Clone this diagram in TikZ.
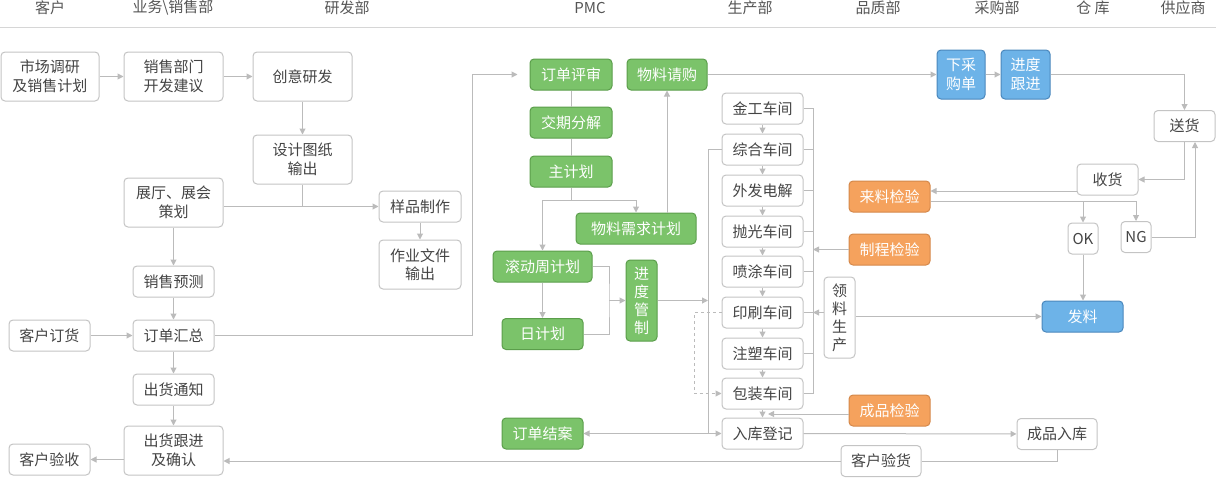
\documentclass[tikz,border=0pt]{standalone}
\usepackage{fontspec}
\setmainfont{Noto Sans CJK SC}
\usetikzlibrary{arrows.meta,calc}
\definecolor{linegray}{HTML}{BBBBBB}
\definecolor{boxgray}{HTML}{C4C4C4}
\definecolor{txtgray}{HTML}{444444}
\definecolor{hdgray}{HTML}{555555}
\definecolor{greenF}{HTML}{7BC36A}
\definecolor{greenB}{HTML}{5B9E4B}
\definecolor{orangeF}{HTML}{F5A25D}
\definecolor{orangeB}{HTML}{D4884A}
\definecolor{blueF}{HTML}{6DB3E8}
\definecolor{blueB}{HTML}{4A87BC}
\tikzset{
  box/.style={draw=boxgray, fill=white, rounded corners=4pt, line width=1pt,
    text=txtgray, inner sep=0pt, align=center,
    font=\fontsize{15pt}{18.5pt}\selectfont},
  gbox/.style={box, draw=greenB, fill=greenF, text=white},
  obox/.style={box, draw=orangeB, fill=orangeF, text=white},
  bbox/.style={box, draw=blueB, fill=blueF, text=white},
  sz/.style 2 args={minimum width=#1pt, minimum height=#2pt},
  hd/.style={text=hdgray, inner sep=0pt, font=\fontsize{15pt}{18pt}\selectfont},
  cn/.style={draw=linegray, line width=1pt},
  arr/.style={cn, -{Triangle[length=6pt,width=6pt]}},
}
\begin{document}
\begin{tikzpicture}[x=1pt,y=-1pt]
\useasboundingbox (0,0) rectangle (1216,477);
% header
\node[hd] (h1) at (50,8) {客户};
\node[hd] (h2) at (173,8) {业务\textbackslash 销售部};
\node[hd] (h3) at (347,8) {研发部};
\node[hd] (h4) at (590,8) {PMC};
\node[hd] (h5) at (750,8) {生产部};
\node[hd] (h6) at (878,8) {品质部};
\node[hd] (h7) at (997,8) {采购部};
\node[hd] (h8) at (1093,8) {仓 库};
\node[hd] (h9) at (1183,8) {供应商};
\draw[draw=boxgray!70, line width=1pt] (0,27) -- (1216,27);

% sales / R&D
\node[box, sz={98}{49}] (n1) at (50,76.5) {市场调研\\及销售计划};
\node[box, sz={99}{49}] (n2) at (173.5,76.5) {销售部门\\开发建议};
\node[box, sz={99}{49}] (n3) at (302.5,76.5) {创意研发};
\node[box, sz={99}{49}] (n4) at (302.5,159.5) {设计图纸\\输出};
\node[box, sz={99}{49}] (n5) at (173.5,202.5) {展厅、展会\\策划};
\node[box, sz={82}{31}] (n6) at (420,206.5) {样品制作};
\node[box, sz={82}{49}] (n7) at (420,264.5) {作业文件\\输出};
\node[box, sz={81}{31}] (n8) at (173.5,281.5) {销售预测};
\node[box, sz={81}{31}] (n9) at (49.5,335.5) {客户订货};
\node[box, sz={81}{31}] (n10) at (173.5,335.5) {订单汇总};
\node[box, sz={81}{31}] (n11) at (173.5,389.5) {出货通知};
\node[box, sz={99}{49}] (n12) at (173.5,450.5) {出货跟进\\及确认};
\node[box, sz={81}{31}] (n13) at (49.5,459.5) {客户验收};

% PMC
\node[gbox, sz={82}{31}] (p1) at (571,74.5) {订单评审};
\node[gbox, sz={80}{31}] (p2) at (667,74.5) {物料请购};
\node[gbox, sz={82}{31}] (p3) at (571,122.5) {交期分解};
\node[gbox, sz={82}{31}] (p4) at (571,171.5) {主计划};
\node[gbox, sz={120}{31}] (p5) at (636,228.5) {物料需求计划};
\node[gbox, sz={99}{31}] (p6) at (542.5,266.5) {滚动周计划};
\node[gbox, sz={81}{31}] (p7) at (542.5,334) {日计划};
\node[gbox, sz={31}{81}, font=\fontsize{15pt}{18pt}\selectfont] (p8) at (641.5,300.5) {进\\度\\管\\制};
\node[gbox, sz={81}{31}] (p9) at (542.5,433.5) {订单结案};

% production
\node[box, sz={81}{31}] (w1) at (762.5,108.5) {金工车间};
\node[box, sz={81}{31}] (w2) at (762.5,149.5) {综合车间};
\node[box, sz={81}{31}] (w3) at (762.5,190.5) {外发电解};
\node[box, sz={81}{31}] (w4) at (762.5,231.5) {抛光车间};
\node[box, sz={81}{31}] (w5) at (762.5,271.5) {喷涂车间};
\node[box, sz={81}{31}] (w6) at (762.5,312.5) {印刷车间};
\node[box, sz={81}{31}] (w7) at (762.5,353.5) {注塑车间};
\node[box, sz={81}{31}] (w8) at (762.5,393.5) {包装车间};
\node[box, sz={81}{31}] (w9) at (762.5,433.5) {入库登记};

% quality
\node[obox, sz={81}{31}] (q1) at (889.5,196.5) {来料检验};
\node[obox, sz={81}{31}] (q2) at (889.5,249.5) {制程检验};
\node[obox, sz={81}{31}] (q3) at (889.5,410.5) {成品检验};
\node[box, sz={31}{81}, font=\fontsize{15pt}{18pt}\selectfont] (l1) at (839.5,317.5) {领\\料\\生\\产};
\node[box, sz={80}{31}] (c1) at (881,461) {客户验货};

% purchasing / warehouse / supplier
\node[bbox, sz={48}{49}] (b1) at (961,74.5) {下采\\购单};
\node[bbox, sz={49}{49}] (b2) at (1025.5,74.5) {进度\\跟进};
\node[bbox, sz={81}{31}] (f1) at (1082.5,316.5) {发料};
\node[box, sz={61}{31}] (s1) at (1184.5,126) {送货};
\node[box, sz={61}{31}] (s2) at (1107.5,179.5) {收货};
\node[box, sz={30}{31}] (ok) at (1083,238.5) {OK};
\node[box, sz={30}{31}] (ng) at (1136,237) {NG};
\node[box, sz={80}{31}] (r1) at (1057,434) {成品入库};

% helper coordinates
\coordinate (t1) at (472,335.5);
\coordinate (t2) at (571,200);
\coordinate (t3) at (609,300.5);
\coordinate (lb) at (708,149.5);
\coordinate (rb) at (813,108.5);
\coordinate (t5) at (768,414);
\coordinate (t6) at (694,312.5);
\coordinate (t8) at ([yshift=-4.5pt]q1.east);
\coordinate (t9) at ([yshift=-11.5pt]s2.west);

% sales / R&D connectors
\draw[arr] (n1) -- (n2);
\draw[arr] (n2) -- (n3);
\draw[arr] (n3) -- (n4);
\draw[arr] (n5.east |- n6.west) -- (n6.west);
\draw[cn] (n4.south) -- (n4.south |- n6.west);
\draw[arr] (n6) -- (n7);
\draw[arr] (n5) -- (n8);
\draw[arr] (n8) -- (n10);
\draw[arr] (n9) -- (n10);
\draw[arr] (n10) -- (n11);
\draw[arr] (n11) -- (n12);
\draw[arr] (n12.west |- n13.east) -- (n13.east);
\draw[arr, shorten >=12pt] (n10.east) -- (t1) |- (p1.west);

% PMC connectors
\draw[cn] (p1) -- (p3);
\draw[cn] (p3) -- (p4);
\draw[cn] (p4.south) -- (t2);
\draw[arr] (t2) -| (p6.north);
\draw[arr] (t2) -| (p5.north);
\draw[arr] (p5.north -| p2.south) -- (p2.south);
\draw[arr] (p2) -- (b1);
\draw[arr] (p6) -- (p7);
\draw[cn] (p6.east) -| (t3) |- (p7.east);
\draw[arr] (t3) -- (p8.west);
\draw[arr] (p8.east) -- (p8.east -| lb);
\draw[arr] (w2.west) -- (lb) |- (w9.west);
\draw[arr] (lb |- w9.west) -- (p9.east);

% production connectors
\draw[arr] (w1) -- (w2);
\draw[arr] (w2) -- (w3);
\draw[arr] (w3) -- (w4);
\draw[arr] (w4) -- (w5);
\draw[arr] (w5) -- (w6);
\draw[arr] (w6) -- (w7);
\draw[arr] (w7) -- (w8);
\draw[arr] (w8) -- (w9);
\draw[cn] (w1.east) -- (rb) -- (rb |- w8.east) -- (w8.east);
\draw[cn] (w2.east) -- (rb |- w2.east);
\draw[cn] (w3.east) -- (rb |- w3.east);
\draw[cn] (w4.east) -- (rb |- w4.east);
\draw[cn] (w5.east) -- (rb |- w5.east);
\draw[cn] (w6.east) -- (rb |- w6.east);
\draw[cn] (w7.east) -- (rb |- w7.east);
\draw[arr, dashed] (w6.west) -- (t6) |- (w8.west);

% quality connectors
\draw[arr] (q2.west) -- (rb |- q2.west);
\draw[arr] (l1.west |- w6.east) -- (rb |- w6.east);
\draw[arr] (l1.east |- f1.west) -- (f1.west);
\draw[arr] (q3.west |- t5) -- (t5);
\draw[arr] (w9) -- (r1);
\draw[cn] (r1.south) |- (c1.east);
\draw[arr] (c1.west) -- (c1.west -| n12.east);

% purchasing / warehouse connectors
\draw[arr] (b1) -- (b2);
\draw[arr] (b2.east) -| (s1.north);
\draw[arr] (s1.south) |- (s2.east);
\draw[arr] (t9) -- (t9 -| q1.east);
\draw[arr] (t8) -| (ng.north);
\draw[arr] (t8 -| ok.north) -- (ok.north);
\draw[arr] (ng.east) -| ([xshift=10.5pt]s1.south);
\draw[arr] (ok.south) -- (ok.south |- f1.north);
\end{tikzpicture}
\end{document}
